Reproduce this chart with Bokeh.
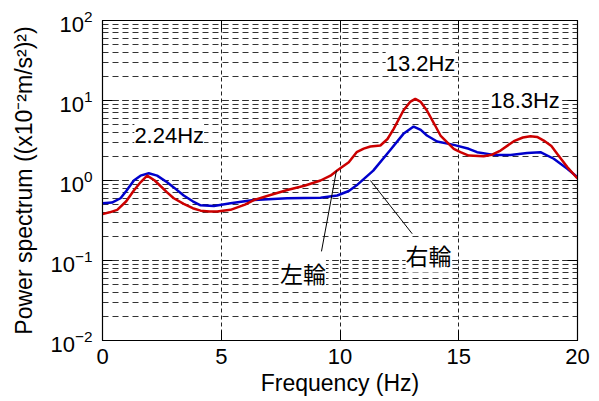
from bokeh.plotting import figure
from bokeh.models import (Range1d, LinearAxis, LogAxis, FixedTicker, LogTicker, Label,
                          CustomJSTickFormatter)
from bokeh.embed import file_html
from bokeh.resources import INLINE

# ---- data ----
left_freq = [0, 0.3, 0.62, 1.0, 1.32, 1.6, 1.88, 2.2, 2.72, 3.0, 3.42, 3.8, 4.13, 4.5, 4.83,
             5.39, 6.0, 6.37, 7.0, 7.78, 8.5, 9.18, 9.6, 9.88, 10.37, 10.7, 11.0, 11.28, 11.7,
             12.0, 12.26, 12.67, 12.95, 13.17, 13.4, 13.66, 14.0, 14.23, 14.79, 15.07, 15.42,
             16.05, 16.4, 16.76, 17.32, 17.7, 18.02, 18.3, 18.58, 18.9, 19.15, 19.57, 20]
left_power = [0.38, 0.40, 0.43, 0.55, 0.75, 0.95, 1.15, 1.0, 0.71, 0.60, 0.51, 0.45, 0.42, 0.41, 0.41,
              0.43, 0.50, 0.57, 0.65, 0.76, 0.86, 1.0, 1.15, 1.33, 1.69, 2.26, 2.5, 2.66, 2.74,
              3.3, 4.42, 7.5, 9.6, 10.5, 9.6, 7.5, 4.9, 3.65, 2.49, 2.26, 2.05,
              2.01, 2.1, 2.37, 3.1, 3.45, 3.58, 3.5, 3.16, 2.7, 2.15, 1.47, 1.06]

right_freq = [0, 0.4, 0.76, 1.0, 1.32, 1.6, 1.95, 2.3, 2.72, 3.0, 3.42, 3.8, 4.13, 4.69, 5.39, 6.37,
              7.78, 9.18, 9.88, 10.37, 10.7, 11.4, 12.1, 12.67, 13.1, 13.4, 13.66, 14.09, 14.79,
              15.42, 15.77, 16.48, 17.18, 17.88, 18.44, 19.0, 19.57, 20]
right_power = [0.52, 0.53, 0.60, 0.74, 1.0, 1.15, 1.23, 1.15, 0.95, 0.82, 0.65, 0.55, 0.49, 0.48, 0.52, 0.57,
               0.60, 0.61, 0.65, 0.74, 0.87, 1.33, 2.37, 3.83, 4.73, 4.3, 3.65, 3.07, 2.79,
               2.49, 2.26, 2.09, 2.09, 2.2, 2.26, 1.87, 1.4, 1.1]

x_ticks = [0, 5, 10, 15, 20]

peak_labels = ["2.24Hz", "13.2Hz", "18.3Hz"]
peak_label_x = [2.81, 13.39, 17.79]
peak_label_y = [3.65, 29.0, 10.0]

wheel_labels = ["左輪", "右輪"]
wheel_label_x = [8.44, 13.73]
wheel_label_y = [0.070, 0.1155]

left_leader_x = [9.22, 9.85]
left_leader_y = [0.13, 1.33]
right_leader_x = [11.28, 13.04]
right_leader_y = [1.0, 0.216]

FONT = "Liberation Sans"
CJK = "Noto Sans CJK JP"

p = figure(width=591, height=393, frame_width=475, frame_height=320,
           x_range=Range1d(0, 20), y_range=Range1d(1e-2, 1e2), y_axis_type="log",
           output_backend="svg", toolbar_location=None,
           min_border_left=102, min_border_top=20, min_border_right=14, min_border_bottom=53)
p.background_fill_color = "white"
p.border_fill_color = "white"
p.outline_line_color = "black"
p.outline_line_width = 1.2

# axes
p.xaxis.ticker = FixedTicker(ticks=x_ticks)
for ax in (p.xaxis[0], p.yaxis[0]):
    ax.major_tick_in = 10
    ax.major_tick_out = 0
    ax.minor_tick_line_color = None
    ax.axis_line_color = "black"
    ax.major_tick_line_color = "black"
    ax.major_label_text_font = FONT
    ax.major_label_text_font_size = "22px"
    ax.major_label_text_color = "black"
    ax.axis_label_text_font = FONT
    ax.axis_label_text_font_size = "23px"
    ax.axis_label_text_font_style = "normal"
    ax.axis_label_text_color = "black"
p.xaxis.axis_label = "Frequency (Hz)"
p.yaxis.axis_label = "Power spectrum ((x10⁻²m/s²)²)"
p.xaxis.major_label_standoff = 8
p.xaxis.axis_label_standoff = 3
p.yaxis.major_label_standoff = 6
p.yaxis.axis_label_standoff = 10

top = LinearAxis(ticker=FixedTicker(ticks=x_ticks), major_tick_in=10, major_tick_out=0,
                 formatter=CustomJSTickFormatter(code="return ''"), minor_tick_line_color=None,
                 axis_line_color="black", major_label_standoff=0)
right = LogAxis(ticker=LogTicker(), major_tick_in=10, major_tick_out=0,
                formatter=CustomJSTickFormatter(code="return ''"), minor_tick_line_color=None,
                axis_line_color="black", major_label_standoff=0)
p.add_layout(top, "above")
p.add_layout(right, "right")

# grid
p.xgrid.ticker = FixedTicker(ticks=x_ticks)
p.xgrid.grid_line_color = "#222222"
p.xgrid.grid_line_dash = "4 3"
p.xgrid.grid_line_width = 1
p.ygrid.grid_line_color = "#333333"
p.ygrid.grid_line_dash = "6 4"
p.ygrid.grid_line_width = 1
p.ygrid.minor_grid_line_color = "#333333"
p.ygrid.minor_grid_line_dash = "6 4"
p.ygrid.minor_grid_line_width = 1

# curves
p.line(right_freq, right_power, line_color="#0000cc", line_width=2.5)
p.line(left_freq, left_power, line_color="#cc0000", line_width=2.5)

# leader lines
p.line(left_leader_x, left_leader_y, line_color="black", line_width=1)
p.line(right_leader_x, right_leader_y, line_color="black", line_width=1)

for t, x, y in zip(peak_labels, peak_label_x, peak_label_y):
    p.add_layout(Label(x=x, y=y, text=t, text_font=FONT, text_font_size="22px",
                       text_align="center", text_baseline="middle", text_color="black",
                       background_fill_color="white"))
for t, x, y in zip(wheel_labels, wheel_label_x, wheel_label_y):
    p.add_layout(Label(x=x, y=y, text=t, text_font=CJK, text_font_size="23px",
                       text_align="center", text_baseline="middle", text_color="black",
                       background_fill_color="white"))

open("out.html", "w").write(file_html(p, INLINE))
